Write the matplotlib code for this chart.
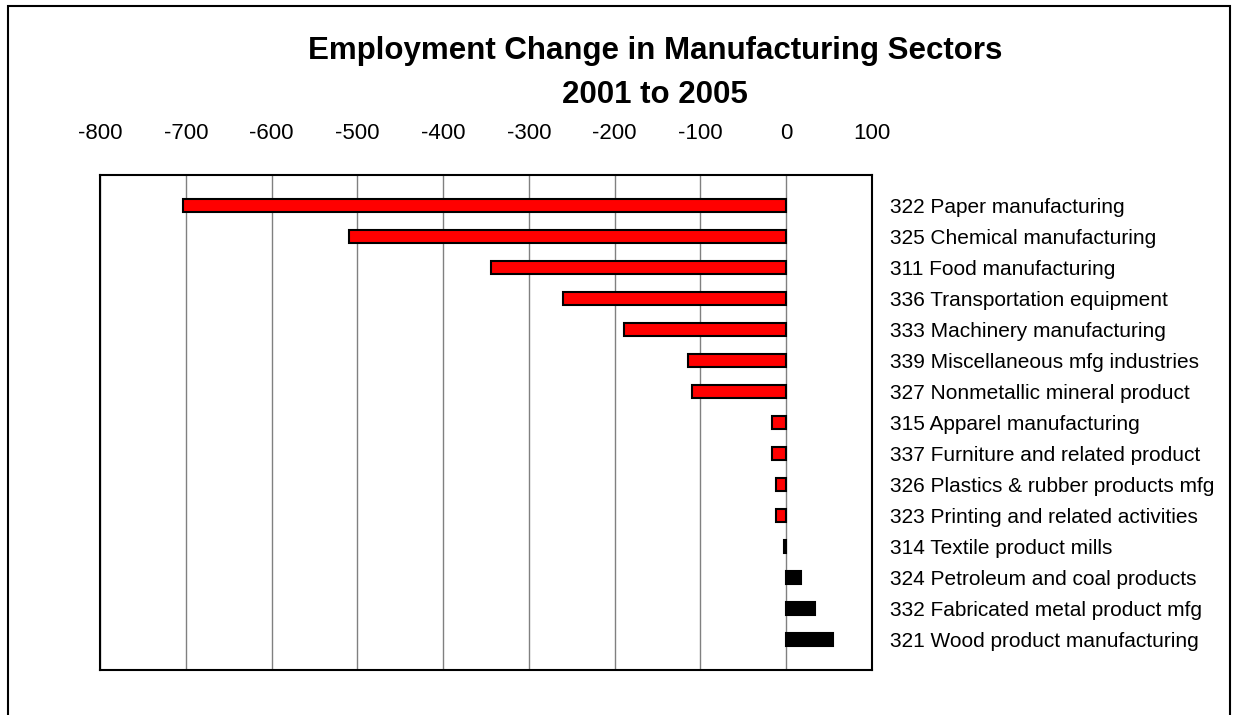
import matplotlib
matplotlib.use("Agg")
import matplotlib.pyplot as plt
from matplotlib.patches import Rectangle

plt.rcParams['font.family'] = ['Liberation Sans', 'DejaVu Sans']

sectors = [
    "322 Paper manufacturing",
    "325 Chemical manufacturing",
    "311 Food manufacturing",
    "336 Transportation equipment",
    "333 Machinery manufacturing",
    "339 Miscellaneous mfg industries",
    "327 Nonmetallic mineral product",
    "315 Apparel manufacturing",
    "337 Furniture and related product",
    "326 Plastics & rubber products mfg",
    "323 Printing and related activities",
    "314 Textile product mills",
    "324 Petroleum and coal products",
    "332 Fabricated metal product mfg",
    "321 Wood product manufacturing",
]
change = [-703, -510, -344, -260, -189, -114, -110, -17, -17, -12, -12, -3, 17, 33, 55]
x_ticks = [-800, -700, -600, -500, -400, -300, -200, -100, 0, 100]

fig = plt.figure(figsize=(12.35, 7.15), dpi=100)

# outer chart frame (open at the bottom edge of the image)
fig.patches.append(Rectangle((8 / 1235, -0.05), (1230 - 8) / 1235, 1 + 0.05 - 6 / 715,
                             transform=fig.transFigure, fill=False,
                             edgecolor='black', linewidth=1.5))

ax = fig.add_axes([100 / 1235, 1 - 670 / 715, (872 - 100) / 1235, (670 - 175) / 715])

ypos = list(range(len(sectors)))
colors = ['#FF0000' if v < 0 else 'black' for v in change]
ax.barh(ypos, change, height=0.42, color=colors, edgecolor='black', linewidth=1.5, zorder=3)

ax.set_xlim(-800, 100)
ax.set_ylim(15, -1)
ax.set_xticks(x_ticks)
ax.set_xticklabels([str(t) for t in x_ticks])
ax.xaxis.tick_top()
ax.tick_params(axis='x', length=0, pad=22, labelsize=16)
ax.grid(axis='x', color='#808080', linewidth=1.0, zorder=0)

ax.set_yticks(ypos)
ax.set_yticklabels(sectors)
ax.yaxis.tick_right()
ax.tick_params(axis='y', length=0, pad=13, labelsize=15)
for lbl in ax.get_yticklabels():
    lbl.set_horizontalalignment('left')

for sp in ax.spines.values():
    sp.set_linewidth(1.5)
    sp.set_color('black')

fig.text(655 / 1235, 1 - 51 / 715, "Employment Change in Manufacturing Sectors",
         ha='center', va='center', fontsize=22.5, fontweight='bold')
fig.text(655 / 1235, 1 - 95 / 715, "2001 to 2005",
         ha='center', va='center', fontsize=22.5, fontweight='bold')

fig.savefig("out.png", dpi=100)
